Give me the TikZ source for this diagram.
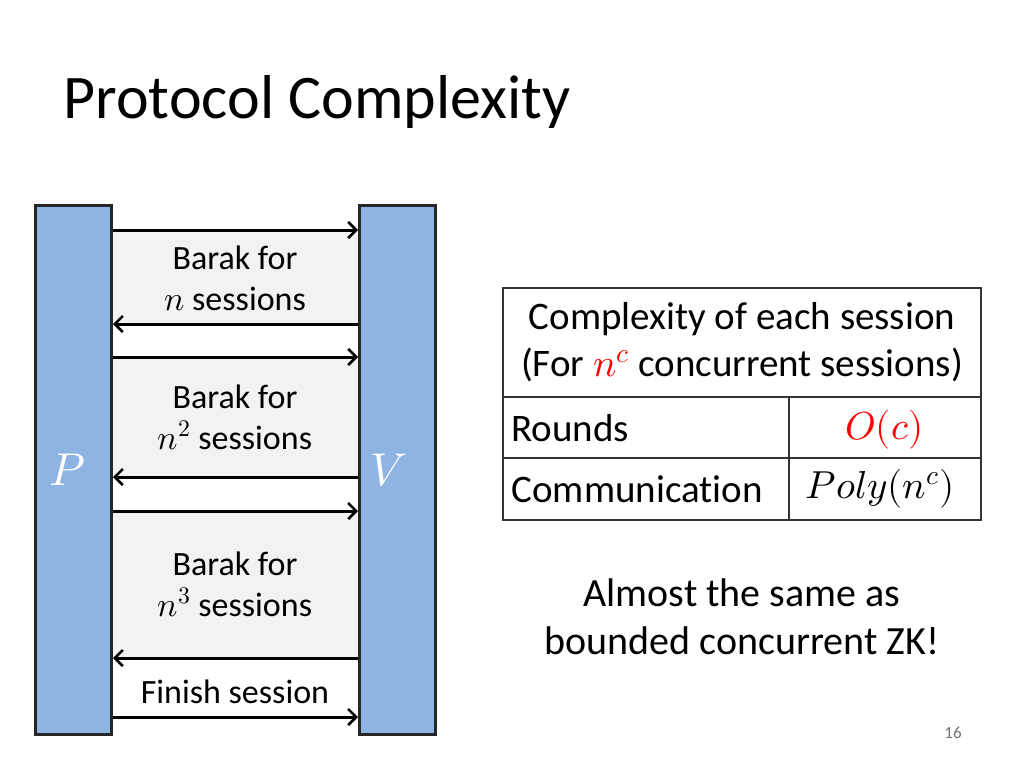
\documentclass[tikz,border=0pt]{standalone}
\usepackage{unicode-math}
\setmainfont{Carlito}[Ligatures=NoCommon]
\setmathfont{Latin Modern Math}
\usetikzlibrary{arrows.meta}
\definecolor{barblue}{HTML}{8EB4E3}
\definecolor{boxgray}{HTML}{F2F2F2}
\definecolor{redm}{HTML}{FF0000}
\begin{document}
\begin{tikzpicture}[x=1pt,y=-1pt,
 bar/.style={draw=black!85,line width=3pt,fill=barblue},
 gbox/.style={fill=boxgray},
 msg/.style={line width=3pt,-{Straight Barb[length=8pt,width=16pt,line width=2.6pt]}},
 lbl/.style={font=\fontsize{34}{41}\selectfont,align=center},
 cell/.style={draw=black!80,line width=1.6pt},
 ttxt/.style={font=\fontsize{39}{47}\selectfont}]
\useasboundingbox (0,0) rectangle (1024,768);
\node[anchor=base west,font=\fontsize{62}{74}\selectfont] (title) at (60,118) {Protocol Complexity};
\fill[gbox] (110,230) rectangle (358,324);
\fill[gbox] (110,357) rectangle (358,477);
\fill[gbox] (110,511) rectangle (358,658);
\node[bar,minimum width=76,minimum height=529,inner sep=0,anchor=north west] (P) at (34,204) {};
\node[bar,minimum width=76,minimum height=529,inner sep=0,anchor=north west] (V) at (358,204) {};
\node[text=white,font=\fontsize{46}{54}\selectfont] (Pl) at (67,470) {$P$};
\node[text=white,font=\fontsize{46}{54}\selectfont] (Vl) at (389,470) {$V$};
\foreach \y in {230,357,511,717}{\draw[msg] (P.east|-0,\y) -- (V.west|-0,\y);}
\foreach \y in {324,477,658}{\draw[msg] (V.west|-0,\y) -- (P.east|-0,\y);}
\node[lbl] (b1) at (235,278) {Barak for\\$n$ sessions};
\node[lbl] (b2) at (235,417) {Barak for\\$n^2$ sessions};
\node[lbl] (b3) at (235,584) {Barak for\\$n^3$ sessions};
\node[lbl] (fin) at (235,692) {Finish session};
% table
\draw[cell] (503,288) rectangle (981,520);
\draw[cell] (503,397) -- (981,397);
\draw[cell] (503,458) -- (981,458);
\draw[cell] (789,397) -- (789,520);
\node[ttxt,align=center] (th) at (742,342) {Complexity of each session\\(For {\color{redm}$n^c$} concurrent sessions)};
\node[ttxt,anchor=west] (r1) at (508,428) {Rounds};
\node[ttxt,anchor=west] (r2) at (508,489) {Communication};
\node[ttxt,text=redm] (v1) at (885,430) {$O(c)$};
\node[ttxt] (v2) at (880,489) {$Poly(n^c)$};
\node[font=\fontsize{40}{48}\selectfont,align=center] (note) at (742,617) {Almost the same as\\bounded concurrent ZK!};
\node[font=\fontsize{17}{20}\selectfont,text=black!55] (pg) at (953,733) {16};
\end{tikzpicture}
\end{document}
